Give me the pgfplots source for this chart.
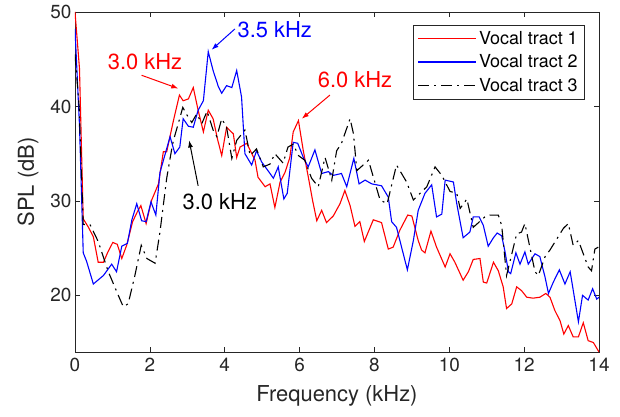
\documentclass[border=0pt]{standalone}
\usepackage{pgfplots}
\pgfplotsset{compat=1.18}
\usepackage{fontspec}
\setmainfont{TeX Gyre Heros}
\usetikzlibrary{arrows.meta}

\definecolor{axgray}{rgb}{0.15,0.15,0.15}

\begin{document}
\begin{tikzpicture}
\begin{axis}[
  scale only axis, width=524bp, height=340bp,
  xmin=0, xmax=14, ymin=14, ymax=50,
  xtick={0,2,...,14}, ytick={20,30,40,50},
  tick align=inside, tick pos=both, major tick length=5bp,
  axis line style={draw=axgray, line width=0.6pt},
  tick style={draw=axgray, line width=0.6pt},
  tick label style={font=\fontsize{19}{19}\selectfont, text=axgray},
  xticklabel style={yshift=-3bp},
  /pgf/number format/assume math mode=true,
  xlabel={Frequency (kHz)}, ylabel={SPL (dB)},
  label style={font=\fontsize{22}{22}\selectfont, text=axgray},
  xlabel style={yshift=-6bp},
  ylabel style={yshift=5bp},
  legend style={at={(1,1)}, xshift=-14bp, yshift=-13bp, anchor=north east,
    draw=axgray, line width=0.6pt, font=\fontsize{18}{18}\selectfont,
    row sep=5bp, inner xsep=5bp, inner ysep=4bp},
  legend cell align=left,
  legend image code/.code={\draw[#1, line width=1.3bp] (0bp,0bp) -- (58bp,0bp);},
]
% vocal tract 1
\addplot[red, line width=1.1bp] coordinates {
(0,50) (0.12,44) (0.22,28.1) (0.36,27.2) (0.49,26.2) (0.62,23.5) (0.76,23.5)
(0.88,24.6) (1.01,25.6) (1.13,25.4) (1.25,23.9) (1.38,25.3) (1.54,27.8) (1.66,28.8)
(1.76,29.5) (1.90,27.6) (2.05,30.1) (2.23,31.8) (2.36,35.2) (2.45,35.2) (2.63,38.5)
(2.79,41.2) (2.89,40.6) (3.03,40.8) (3.16,42.0) (3.29,39.6) (3.43,37.3) (3.56,39.6)
(3.69,38.7) (3.81,36.5) (3.92,34.8) (4.05,37.8) (4.23,37.1) (4.32,34.6) (4.41,35.7)
(4.59,36.1) (4.70,35.2) (4.81,34.3) (4.89,32.5) (5.08,31.5) (5.21,31.8) (5.34,29.3)
(5.48,32.0) (5.61,33.0) (5.74,34.6) (5.83,37.3) (5.97,38.5) (6.10,35.3) (6.23,32.6)
(6.35,30.0) (6.46,27.9) (6.59,29.0) (6.72,27.7) (6.90,28.4) (7.08,29.7) (7.21,31.1)
(7.35,29.5) (7.48,27.3) (7.61,27.8) (7.73,25.7) (7.97,28.0) (8.19,27.7) (8.37,24.9)
(8.50,25.1) (8.68,26.9) (8.89,28.5) (9.00,28.4) (9.17,25.8) (9.26,24.8) (9.35,24.5)
(9.51,26.8) (9.66,25.1) (9.89,23.0) (10.02,24.4) (10.15,23.5) (10.37,21.6) (10.51,22.5)
(10.64,23.8) (10.82,23.9) (10.91,21.4) (11.00,21.3) (11.18,23.5) (11.31,22.6) (11.44,20.9)
(11.53,18.6) (11.67,19.1) (11.80,20.9) (11.93,20.5) (12.07,19.8) (12.24,19.7) (12.42,19.8)
(12.58,20.2) (12.69,19.8) (12.82,18.4) (12.96,17.3) (13.06,15.9) (13.18,16.8) (13.31,15.6)
(13.45,15.6) (13.58,17.1) (13.71,15.2) (13.85,15.0) (14.0,14.0)
};
\addlegendentry{Vocal tract 1}
% vocal tract 2
\addplot[blue, line width=1.1bp] coordinates {
(0,48.2) (0.12,38) (0.22,24.5) (0.31,23.6) (0.49,21.2) (0.76,22.1) (0.98,23.3)
(1.11,22.5) (1.25,25.2) (1.40,25.5) (1.52,28.0) (1.65,29.7) (1.78,27.9) (1.90,27.8)
(2.03,29.9) (2.16,28.5) (2.27,33.0) (2.54,36.8) (2.67,35.0) (2.80,35.7) (2.89,38.7)
(3.03,37.9) (3.16,37.8) (3.29,39.6) (3.43,40.6) (3.56,45.8) (3.69,43.8) (3.83,42.1)
(3.92,41.4) (4.05,42.2) (4.19,42.0) (4.32,43.8) (4.45,41.0) (4.54,35.0) (4.72,33.8)
(4.85,35.3) (4.99,34.1) (5.12,33.4) (5.30,32.4) (5.43,33.6) (5.58,30.2) (5.67,30.8)
(5.83,36.2) (5.95,36.1) (6.10,34.6) (6.23,33.6) (6.41,35.4) (6.59,32.9) (6.77,33.1)
(6.90,32.7) (7.12,32.9) (7.26,31.5) (7.45,34.5) (7.59,31.8) (7.75,32.2) (7.93,31.8)
(8.19,31.6) (8.37,30.4) (8.46,27.8) (8.59,27.2) (8.88,22.7) (9.04,25.8) (9.17,29.0)
(9.35,30.8) (9.53,31.7) (9.66,28.3) (9.80,28.6) (9.89,32.2) (10.11,32.0) (10.20,29.7)
(10.37,26.1) (10.55,26.7) (10.64,28.3) (10.80,28.3) (10.91,27.4) (11.04,25.2) (11.18,26.1)
(11.28,26.6) (11.40,26.3) (11.49,24.6) (11.58,22.5) (11.64,22.3) (11.78,24.5) (11.89,23.3)
(12.02,24.6) (12.11,23.3) (12.29,24.4) (12.42,24.1) (12.56,21.9) (12.65,20.2) (12.78,21.4)
(12.94,22.7) (13.09,21.2) (13.23,22.5) (13.45,17.2) (13.56,20.0) (13.71,19.5) (13.83,20.7)
(13.94,19.6) (14.0,19.8)
};
\addlegendentry{Vocal tract 2}
% vocal tract 3
\addplot[black, line width=1.1bp, dash pattern=on 11bp off 5bp on 2bp off 5bp] coordinates {
(0,45.5) (0.11,40) (0.22,27.5) (0.40,27.5) (0.62,25.7) (0.89,22.5) (1.20,19.6)
(1.29,18.8) (1.42,19.1) (1.60,22.1) (1.77,25.3) (1.92,23.9) (2.14,23.4) (2.27,26.7)
(2.45,32.4) (2.58,35.4) (2.63,36.4) (2.76,38.2) (2.88,39.9) (2.99,39.1) (3.12,38.3)
(3.25,39.2) (3.39,38.2) (3.53,39.5) (3.69,37.5) (3.79,36.8) (3.92,38.7) (4.05,37.8)
(4.19,34.5) (4.32,36.4) (4.54,37.5) (4.68,34.8) (4.85,35.5) (5.03,33.6) (5.21,33.9)
(5.34,35.0) (5.56,34.0) (5.69,35.7) (5.83,36.0) (5.97,34.8) (6.14,34.3) (6.32,32.4)
(6.50,31.5) (6.68,34.6) (6.86,32.2) (6.99,35.3) (7.12,36.1) (7.35,38.7) (7.44,37.1)
(7.53,33.2) (7.84,34.3) (8.15,30.1) (8.34,29.7) (8.59,33.8) (8.86,32.0) (9.04,30.1)
(9.40,31.5) (9.62,33.6) (9.80,32.7) (10.02,31.0) (10.20,30.8) (10.29,29.2) (10.47,30.2)
(10.64,27.2) (10.95,28.3) (11.09,28.5) (11.31,28.5) (11.40,27.4) (11.53,22.1) (11.80,26.5)
(11.93,26.7) (12.02,27.6) (12.29,22.5) (12.38,22.1) (12.56,24.1) (12.69,24.8) (13.05,27.1)
(13.18,27.6) (13.31,25.3) (13.45,25.8) (13.71,23.0) (13.80,22.6) (13.89,24.9) (13.98,25.1)
};
\addlegendentry{Vocal tract 3}

% peak annotations
\node[red, font=\fontsize{22}{22}\selectfont] at (axis cs:1.87,44.7) {3.0 kHz};
\draw[red, line width=1bp, -{Latex[length=7bp,width=5bp]}] (axis cs:1.78,43.3) -- (axis cs:2.76,41.9);
\node[blue, font=\fontsize{22}{22}\selectfont, anchor=west] at (axis cs:4.25,48.1) {3.5 kHz};
\draw[blue, line width=1bp, -{Latex[length=7bp,width=5bp]}] (axis cs:4.27,48.2) -- (axis cs:3.65,46.0);
\node[red, font=\fontsize{22}{22}\selectfont] at (axis cs:7.48,42.8) {6.0 kHz};
\draw[red, line width=1bp, -{Latex[length=7bp,width=5bp]}] (axis cs:6.81,41.2) -- (axis cs:6.06,38.7);
\node[black, font=\fontsize{22}{22}\selectfont] at (axis cs:3.87,29.9) {3.0 kHz};
\draw[black, line width=1bp, -{Latex[length=7bp,width=5bp]}] (axis cs:3.29,31.6) -- (axis cs:3.05,36.4);
\end{axis}
\pgfresetboundingbox
\path (current axis.south west) ++(-75bp,-65bp) rectangle ([shift={(21bp,12bp)}]current axis.north east);
\end{tikzpicture}
\end{document}
